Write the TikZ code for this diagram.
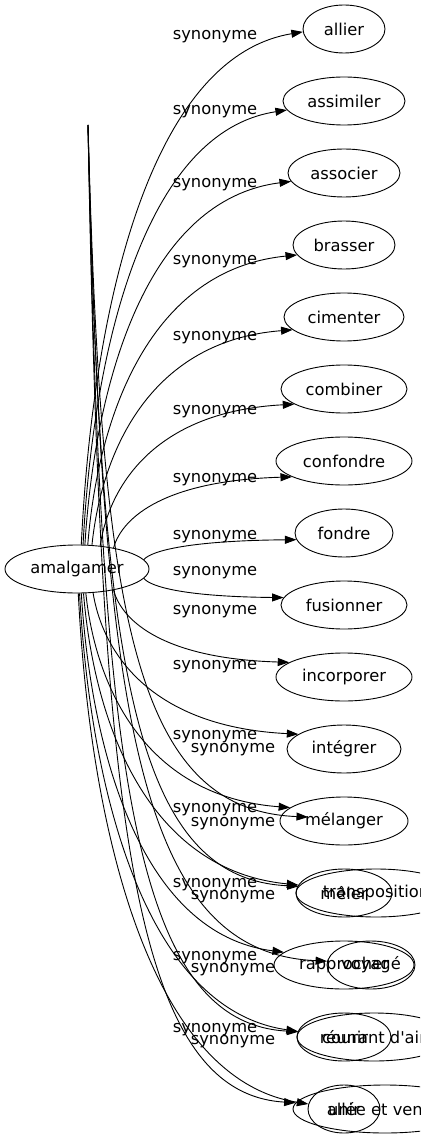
\documentclass[tikz,border=0pt]{standalone}
\usepackage{fontspec}
\setmainfont{DejaVu Sans}
\usetikzlibrary{arrows.meta,shapes.geometric,calc}

\tikzset{
  word/.style={draw, ellipse, minimum height=48, inner sep=0pt, line width=0.9pt, font=\fontsize{16.3}{18}\selectfont},
  lab/.style={inner sep=0pt, font=\fontsize{16.3}{18}\selectfont},
  syn/.style={line width=0.9pt, -{Triangle[length=11.5pt,width=8pt]}}
}

\begin{document}
\begin{tikzpicture}[x=1pt,y=-1pt]
\useasboundingbox (0,0) rectangle (420,1139);
\clip (0,0) rectangle (420,1139);

% source word
\node[word, minimum width=144] (amal) at (77,569) {amalgamer};

% synonyms, one per row
\foreach \t/\r [count=\i from 0] in {allier/41, assimiler/61, associer/56, brasser/51, cimenter/60, combiner/63, confondre/68, fondre/49, fusionner/63, incorporer/68, intégrer/57, mélanger/64, mêler/48, rapprocher/70, réunir/47, unir/36}
    \node[word, minimum width=2*\r] (n\i) at (344,29+72*\i) {\t};

% words of the other graph, lying over the lower rows
\node[word, minimum width=160] (trans) at (376,893) {transposition};
\node[word, minimum width=88] (voy) at (371,965) {voyagé};
\node[word, minimum width=154] (cour) at (374,1037) {courant d\textquotesingle air};
\node[word, minimum width=184] (allee) at (385,1109) {allée et venue};
\coordinate (hid) at (308,817);
\coordinate (src) at (88,125);

% edges from amalgamer
\foreach \a/\b [count=\i from 0] in {80/184, 76/189, 72/189, 66/192, 58/194, 45/197, 30/197, 8/188, 352/173, 330/165, 304/162, 290/166, 285/170, 280/168, 276/173, 273/172}
    \draw[syn] let \p1=(amal.\a), \p2=(n\i.\b) in
        (\p1) .. controls (0.95*\x1+0.05*\x2, 0.55*\y1+0.45*\y2) and (0.7*\x1+0.3*\x2, 0.05*\y1+0.95*\y2) .. (\p2);

% edges coming down from above
\foreach \e in {hid, trans.175, voy.175, cour.176, allee.176}
    \draw[syn] let \p1=(src), \p2=(\e) in
        (\p1) .. controls (0.94*\x1+0.06*\x2, 0.3*\y1+0.7*\y2) and (0.8*\x1+0.2*\x2, 0.01*\y1+0.99*\y2) .. (\p2);

% edge labels
\foreach \y [count=\i] in {37,112,185,262,338,412,480,537,573,612,667,737,810,885,958,1030}
    \node[lab] (l\i) at (215,\y) {synonyme};
\foreach \y [count=\i] in {750,824,897,970,1042}
    \node[lab] (m\i) at (233,\y) {synonyme};

\end{tikzpicture}
\end{document}
